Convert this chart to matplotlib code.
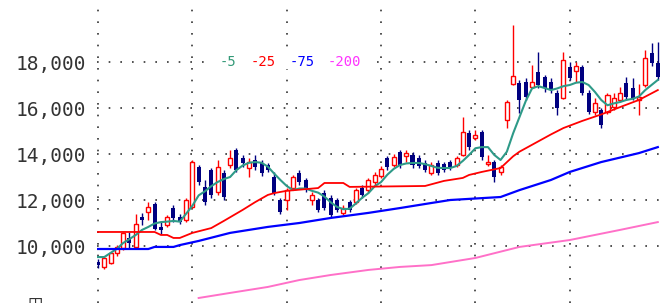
import numpy as np
import matplotlib
matplotlib.use("Agg")
import matplotlib.pyplot as plt
from matplotlib.patches import Rectangle

# daily candles, oldest first
opens = [9300, 9090, 9260, 9700, 9910, 10350, 9960, 11260, 11480, 11830,
         10830, 10910, 11650, 11260, 11130, 11700, 13430, 12570, 13300, 12350,
         13170, 13520, 14170, 13830, 13390, 13740, 13610, 13520, 13000, 12000,
         12000, 12520, 13170, 12870, 12000, 12000, 12300, 12090, 12000, 11440,
         11910, 11910, 12520, 12440, 12780, 13040, 13830, 13520, 14090, 13910,
         13960, 13830, 13610, 13170, 13610, 13570, 13650, 13520, 13960, 14910,
         14700, 14960, 13570, 13650, 13220, 15480, 17040, 17090, 17130, 16910,
         17570, 17350, 17130, 16650, 16440, 17780, 17610, 17780, 16650, 15830,
         15910, 15830, 16040, 16350, 17090, 16870, 16350, 17000, 18390, 17960]
highs = [9430, 9560, 9740, 10040, 10610, 10610, 11390, 11430, 11910, 11910,
         11040, 11350, 11780, 11390, 12090, 13740, 13520, 12870, 13390, 13740,
         13300, 14170, 14260, 13960, 13830, 13960, 13740, 13610, 13220, 12090,
         12520, 13090, 13300, 12960, 12350, 12090, 12430, 12220, 12090, 11780,
         12000, 12520, 12650, 12960, 13220, 13480, 13910, 14000, 14170, 14170,
         14090, 13960, 13740, 13650, 13740, 13650, 13740, 13910, 15610, 15040,
         15040, 15040, 13960, 13740, 13520, 16350, 19610, 17220, 17300, 17870,
         18440, 17440, 17300, 16780, 18440, 18000, 18000, 17870, 16780, 16430,
         16000, 16650, 16650, 16910, 17350, 17300, 17040, 18520, 18830, 18870]
lows = [9040, 9000, 9200, 9570, 9830, 9910, 9960, 10910, 11130, 10700,
        10520, 10830, 11040, 10960, 11040, 11650, 12650, 11780, 12090, 12220,
        12000, 13390, 13220, 13440, 13000, 13300, 13040, 13220, 12220, 11390,
        11570, 12440, 12650, 12350, 11780, 11480, 11570, 11260, 11480, 11350,
        11480, 11830, 12090, 12300, 12650, 12960, 13300, 13430, 13390, 13650,
        13390, 13390, 13220, 13090, 13090, 13220, 13300, 13440, 13910, 14170,
        14610, 13740, 13480, 12780, 13090, 15130, 17000, 15780, 16350, 16870,
        16870, 16700, 16650, 15700, 16390, 17220, 17130, 16570, 15740, 15700,
        15130, 15740, 15910, 16260, 16350, 16350, 15700, 16910, 17830, 17220]
closes = [9170, 9480, 9700, 9960, 10560, 10130, 10960, 11130, 11700, 10740,
          10700, 11260, 11220, 11040, 12000, 13650, 12780, 11910, 12220, 13430,
          12130, 13830, 13300, 13610, 13650, 13440, 13170, 13300, 12300, 11480,
          12440, 13000, 12780, 12520, 12220, 11570, 11650, 11350, 11570, 11650,
          11570, 12440, 12220, 12870, 13090, 13350, 13430, 13870, 13520, 14040,
          13520, 13480, 13300, 13520, 13170, 13300, 13390, 13830, 14960, 14300,
          14830, 13870, 13650, 12990, 13440, 16260, 17390, 16350, 16480, 17130,
          17000, 16870, 16780, 16000, 18090, 17300, 17830, 16650, 15830, 16220,
          15260, 16570, 16430, 16650, 16480, 16440, 16480, 18170, 17960, 17350]

# moving averages
ma5 = [9520, 9520, 9700, 9880, 10130, 10300, 10480, 10700, 10830, 10980,
       11040, 11060, 11090, 11060, 11400, 11750, 12200, 12380, 12600, 12780,
       12910, 13000, 13300, 13500, 13620, 13650, 13620, 13450, 13150, 12870,
       12610, 12430, 12500, 12500, 12400, 12320, 12150, 11900, 11700, 11600,
       11620, 11850, 12100, 12300, 12600, 12780, 13100, 13350, 13520, 13590,
       13610, 13610, 13560, 13480, 13400, 13390, 13390, 13480, 13700, 13960,
       14250, 14300, 14300, 13960, 13740, 14100, 14900, 15600, 16300, 16850,
       16950, 16870, 16780, 16850, 16950, 17000, 17100, 17130, 17000, 16700,
       16350, 16120, 16200, 16260, 16350, 16400, 16500, 16780, 17000, 17220]
ma25_idx = [0, 9, 10, 11, 12, 13, 15, 18, 20, 23, 25, 27, 28, 30, 35, 36, 39,
            40, 52, 55, 58, 59, 61, 64, 66, 67, 70, 72, 74, 77, 80, 83, 86, 89]
ma25 = [10610, 10610, 10480, 10480, 10350, 10350, 10570, 10780, 11090, 11570,
        11910, 12220, 12300, 12400, 12520, 12740, 12740, 12570, 12610, 12830,
        12960, 13090, 13220, 13390, 13900, 14100, 14550, 14850, 15130, 15440,
        15720, 16040, 16350, 16780]
ma75_idx = [0, 8, 9, 12, 13, 16, 21, 27, 32, 37, 43, 48, 53, 56, 64, 67, 72,
            75, 80, 86, 89]
ma75 = [9870, 9870, 9960, 9960, 10040, 10220, 10570, 10830, 11000, 11220,
        11440, 11650, 11870, 12000, 12130, 12430, 12870, 13220, 13650, 14040,
        14300]
ma200_idx = [16, 21, 27, 32, 37, 43, 48, 53, 60, 67, 75, 83, 89]
ma200 = [7740, 7960, 8220, 8520, 8740, 8960, 9090, 9170, 9480, 9960, 10260,
         10700, 11040]

price_ticks = [10000, 12000, 14000, 16000, 18000]
grid_idx = [0, 15, 30, 45, 60, 75]
legend_labels = ["-5", "-25", "-75", "-200"]
legend_colors = ["#339977", "#ff0000", "#0000ff", "#ff33ff"]

o = np.array(opens)
h = np.array(highs)
l = np.array(lows)
c = np.array(closes)
x = np.arange(len(o))
up = c >= o
dn = ~up

fig = plt.figure(figsize=(6.68, 3.03), dpi=100)
ax = fig.add_axes([97 / 668, 0, 571 / 668, 1])
ax.set_xlim(-0.16, 90.62)
ax.set_ylim(7522, 20696)
for s in ax.spines.values():
    s.set_visible(False)

ax.set_axisbelow(True)
ax.set_xticks(grid_idx)
ax.set_yticks(price_ticks)
ax.set_yticklabels([f"{v:,}" for v in price_ticks])
ax.tick_params(axis="x", length=0, labelbottom=False)
ax.tick_params(axis="y", length=0, pad=8, labelsize=14, labelcolor="#333333")
for lbl in ax.get_yticklabels():
    lbl.set_family("DejaVu Sans Mono")
ax.grid(True, linestyle=(0, (1, 6)), color="#333333", linewidth=1.2)

# candles
wick_cols = np.where(up, "#ff0000", "#000080")
ax.vlines(x, l, h, colors=wick_cols, linewidth=1, zorder=2)
ax.bar(x[dn], (o - c)[dn], bottom=c[dn], width=0.64, color="#000080",
       linewidth=0, zorder=3)
ax.bar(x[up], (c - o)[up], bottom=o[up], width=0.64, facecolor="white",
       edgecolor="#ff0000", linewidth=1, zorder=3)

# moving averages
ax.plot(np.arange(len(ma5)), ma5, color="#2e9a88", lw=1.5, zorder=4)
ax.plot(ma25_idx, ma25, color="#ff0000", lw=1.3, zorder=4)
ax.plot(ma75_idx, ma75, color="#0000ff", lw=1.6, zorder=4)
ax.plot(ma200_idx, ma200, color="#ff70c8", lw=1.4, zorder=4)

# legend over the 18,000 line
ax.add_patch(Rectangle((17.5, 17700), 26.1, 600, facecolor="white",
                       edgecolor="none", zorder=1))
for xi, lab, col in zip([19.4, 24.2, 30.5, 36.5], legend_labels, legend_colors):
    ax.text(xi, 18000, lab, color=col, fontsize=10, family="DejaVu Sans Mono",
            ha="left", va="center", zorder=5)

fig.text(35 / 668, 1 - 297 / 303, "田", fontsize=11, color="#333333",
         family=["Noto Sans CJK JP", "DejaVu Sans"], ha="center", va="top")

fig.savefig("out.png", dpi=100)
